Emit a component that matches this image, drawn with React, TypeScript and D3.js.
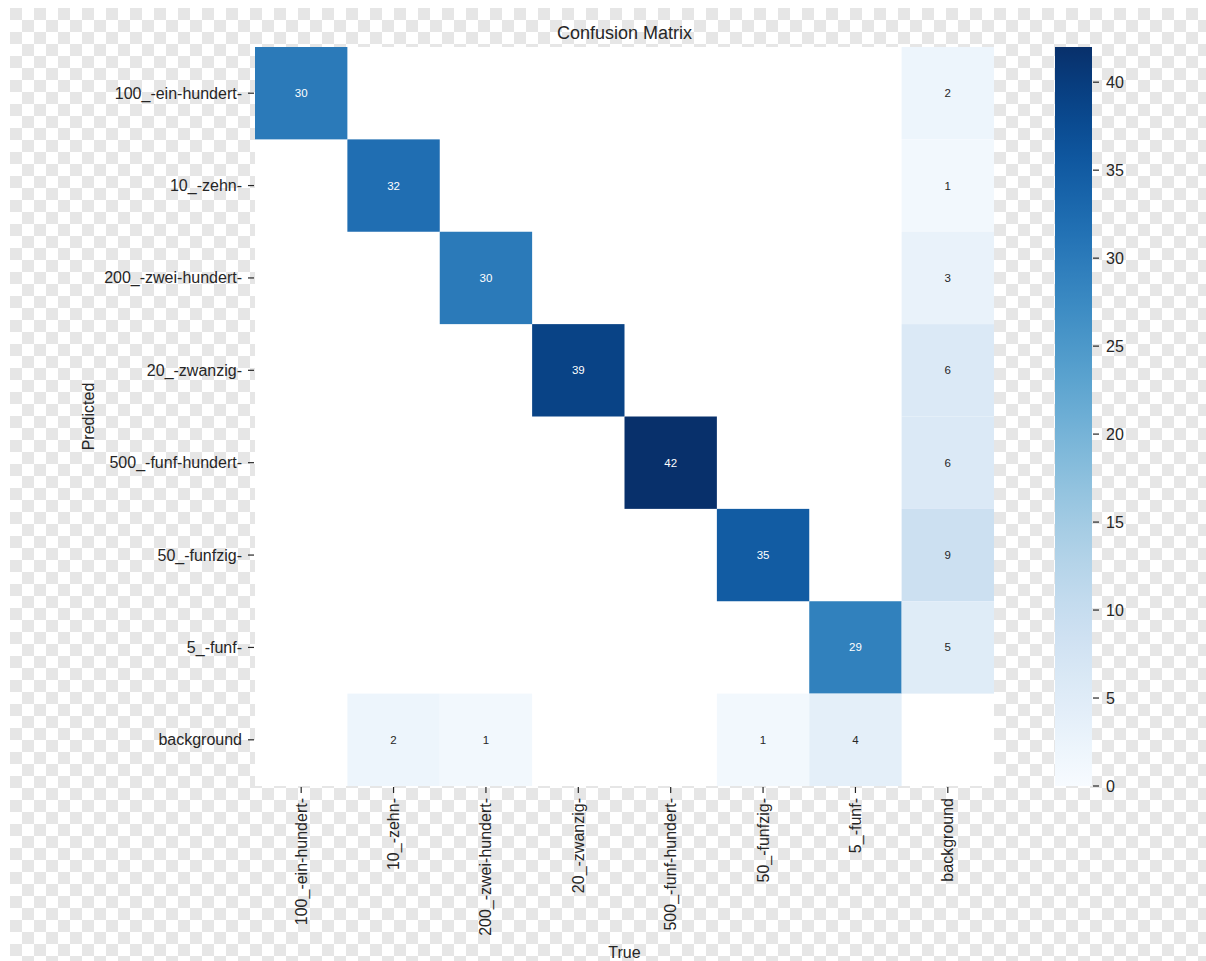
import React from "react";
import * as d3 from "d3";

// Class labels (same order for predicted rows and true columns)
const classes = [
  "100_-ein-hundert-",
  "10_-zehn-",
  "200_-zwei-hundert-",
  "20_-zwanzig-",
  "500_-funf-hundert-",
  "50_-funfzig-",
  "5_-funf-",
  "background",
];

// Counts per predicted row, one value per true column
const row100 = [30, 0, 0, 0, 0, 0, 0, 2];
const row10 = [0, 32, 0, 0, 0, 0, 0, 1];
const row200 = [0, 0, 30, 0, 0, 0, 0, 3];
const row20 = [0, 0, 0, 39, 0, 0, 0, 6];
const row500 = [0, 0, 0, 0, 42, 0, 0, 6];
const row50 = [0, 0, 0, 0, 0, 35, 0, 9];
const row5 = [0, 0, 0, 0, 0, 0, 29, 5];
const rowBackground = [0, 2, 1, 0, 0, 1, 4, 0];

const matrix = [row100, row10, row200, row20, row500, row50, row5, rowBackground];

const colorbarTicks = [0, 5, 10, 15, 20, 25, 30, 35, 40];
const vmax = 42;

const WIDTH = 1206;
const HEIGHT = 961;
const FONT = "'Liberation Sans', Arial, Helvetica, sans-serif";
const INK = "#262626";

const heat = { left: 255, right: 994, top: 47, bottom: 786 };
const bar = { left: 1055, right: 1092 };

export default function App() {
  const x = d3.scaleBand<string>().domain(classes).range([heat.left, heat.right]);
  const y = d3.scaleBand<string>().domain(classes).range([heat.top, heat.bottom]);
  const color = d3.scaleSequential(d3.interpolateBlues).domain([0, vmax]);
  const cbY = d3.scaleLinear().domain([0, vmax]).range([heat.bottom, heat.top]);

  const cells = matrix.flatMap((row, r) =>
    row.map((v, c) => ({ r, c, v }))
  ).filter((d) => d.v > 0);

  const textColor = (v: number) => {
    const rgb = d3.rgb(color(v));
    const lin = (u: number) => {
      const s = u / 255;
      return s <= 0.03928 ? s / 12.92 : Math.pow((s + 0.055) / 1.055, 2.4);
    };
    const lum = 0.2126 * lin(rgb.r) + 0.7152 * lin(rgb.g) + 0.0722 * lin(rgb.b);
    return lum > 0.408 ? INK : "#ffffff";
  };

  const gradStops = d3.range(0, 1.0001, 0.05);

  return (
    <svg
      width={WIDTH}
      height={HEIGHT}
      style={{ position: "absolute", left: 0, top: 0, display: "block" }}
      fontFamily={FONT}
    >
      <defs>
        <pattern id="checker" x={10} y={8} width={24} height={24} patternUnits="userSpaceOnUse">
          <rect width={24} height={24} fill="#ffffff" />
          <rect width={12} height={12} fill="#e6e6e6" />
          <rect x={12} y={12} width={12} height={12} fill="#e6e6e6" />
        </pattern>
        <linearGradient id="cbar" x1="0" y1="1" x2="0" y2="0">
          {gradStops.map((t) => (
            <stop key={t} offset={t} stopColor={color(t * vmax)} />
          ))}
        </linearGradient>
      </defs>

      <rect width={WIDTH} height={HEIGHT} fill="#ffffff" />
      <rect x={10} y={8} width={WIDTH - 10} height={HEIGHT - 8} fill="url(#checker)" />

      {/* axes face */}
      <rect
        x={heat.left}
        y={heat.top}
        width={heat.right - heat.left}
        height={heat.bottom - heat.top}
        fill="#ffffff"
      />

      {/* heatmap cells */}
      {cells.map((d) => (
        <rect
          key={`${d.r}-${d.c}`}
          x={x(classes[d.c])}
          y={y(classes[d.r])}
          width={x.bandwidth()}
          height={y.bandwidth()}
          fill={color(d.v)}
        />
      ))}
      {cells.map((d) => (
        <text
          key={`t${d.r}-${d.c}`}
          x={(x(classes[d.c]) ?? 0) + x.bandwidth() / 2}
          y={(y(classes[d.r]) ?? 0) + y.bandwidth() / 2}
          textAnchor="middle"
          dominantBaseline="central"
          fontSize={11.5}
          fill={textColor(d.v)}
        >
          {d.v}
        </text>
      ))}

      {/* y axis ticks and labels */}
      {classes.map((c) => {
        const cy = (y(c) ?? 0) + y.bandwidth() / 2;
        return (
          <g key={`y${c}`}>
            <line x1={heat.left - 7} x2={heat.left - 1} y1={cy} y2={cy} stroke={INK} strokeWidth={1.2} />
            <text
              x={heat.left - 13}
              y={cy}
              textAnchor="end"
              dominantBaseline="central"
              fontSize={16}
              fill={INK}
            >
              {c}
            </text>
          </g>
        );
      })}

      {/* x axis ticks and labels */}
      {classes.map((c) => {
        const cx = (x(c) ?? 0) + x.bandwidth() / 2;
        return (
          <g key={`x${c}`}>
            <line x1={cx} x2={cx} y1={heat.bottom + 1} y2={heat.bottom + 7} stroke={INK} strokeWidth={1.2} />
            <text
              transform={`translate(${cx},${heat.bottom + 12}) rotate(-90)`}
              textAnchor="end"
              dominantBaseline="central"
              fontSize={16}
              fill={INK}
            >
              {c}
            </text>
          </g>
        );
      })}

      {/* colorbar */}
      <rect
        x={bar.left}
        y={heat.top}
        width={bar.right - bar.left}
        height={heat.bottom - heat.top}
        fill="url(#cbar)"
      />
      {colorbarTicks.map((t) => (
        <g key={`cb${t}`}>
          <line x1={bar.right + 1} x2={bar.right + 7} y1={cbY(t)} y2={cbY(t)} stroke={INK} strokeWidth={1.2} />
          <text
            x={bar.right + 14}
            y={cbY(t)}
            dominantBaseline="central"
            fontSize={16}
            fill={INK}
          >
            {t}
          </text>
        </g>
      ))}

      {/* titles */}
      <text
        x={(heat.left + heat.right) / 2}
        y={33}
        textAnchor="middle"
        dominantBaseline="central"
        fontSize={18}
        fill={INK}
      >
        Confusion Matrix
      </text>
      <text
        x={(heat.left + heat.right) / 2}
        y={952}
        textAnchor="middle"
        dominantBaseline="central"
        fontSize={16}
        fill={INK}
      >
        True
      </text>
      <text
        transform={`translate(88,${(heat.top + heat.bottom) / 2}) rotate(-90)`}
        textAnchor="middle"
        dominantBaseline="central"
        fontSize={16}
        fill={INK}
      >
        Predicted
      </text>
    </svg>
  );
}
